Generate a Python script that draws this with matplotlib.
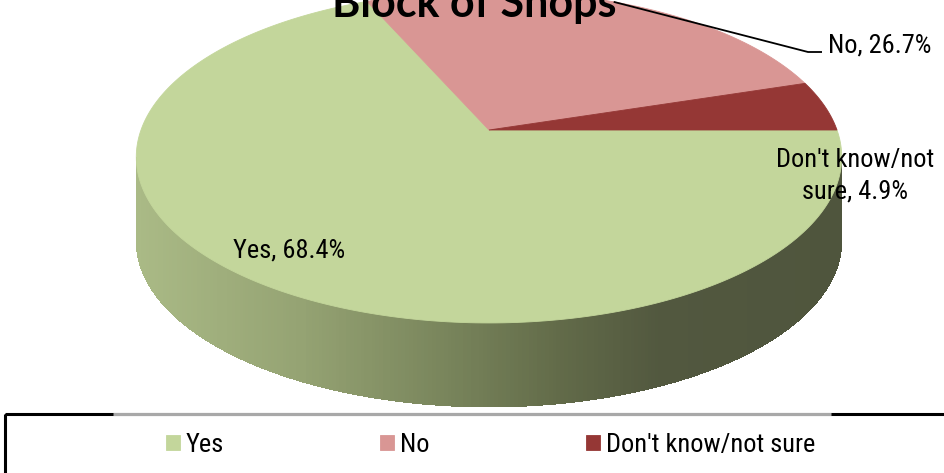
import textwrap
import numpy as np
import matplotlib
matplotlib.use("Agg")
import matplotlib.pyplot as plt
from matplotlib import font_manager
from matplotlib.transforms import Transform, Affine2D
from matplotlib.path import Path
from matplotlib.patches import Rectangle
from matplotlib.collections import PolyCollection
from matplotlib.colors import LinearSegmentedColormap

# ---------------- data ----------------
categories = ["Yes", "No", "Don't know/not sure"]
values = [68.4, 26.7, 4.9]
title = "Block of Shops"
top_colors = ["#C3D69B", "#D99694", "#953735"]

# ---------------- layout / style ----------------
W, H = 944, 473
CX, CY = 489, 130          # projected pie centre (px from top-left)
SX, SY = 348, 161.5        # horizontal / vertical radius scale (px)
K = 0.163                  # perspective strength
DEPTH = 84                 # thickness of pie (px)
side_stops = [(136, "#AABA86"), (300, "#95A373"), (450, "#78845B"),
              (560, "#626B49"), (660, "#52583F"), (843, "#4F553D")]


def have_font(name):
    try:
        font_manager.findfont(font_manager.FontProperties(family=name),
                              fallback_to_default=False)
        return True
    except Exception:
        return False


narrow = None
for cand in ["Liberation Sans Narrow", "Arial Narrow", "Roboto Condensed",
             "Open Sans Condensed"]:
    if have_font(cand):
        narrow = cand
        break
if narrow:
    LABEL_FONT = [narrow, "DejaVu Sans"]
    FS = 19
else:
    LABEL_FONT = ["Liberation Sans", "DejaVu Sans"]
    FS = 16.5
EM = FS * 100 / 72.0


class PieProjection(Transform):
    input_dims = output_dims = 2
    is_separable = False
    has_inverse = False

    def transform_non_affine(self, pts):
        pts = np.asarray(pts, float)
        u, v = pts[:, 0], pts[:, 1]
        d = 1 + K * v
        return np.column_stack([CX + SX * u / d, CY - SY * v / d])

    def transform_path_non_affine(self, path):
        polys = path.to_polygons(Affine2D().scale(2000), closed_only=False)
        verts = np.concatenate(polys) / 2000.0
        return Path(self.transform_non_affine(verts), closed=True)


proj = PieProjection()

fig = plt.figure(figsize=(W / 100, H / 100), dpi=100)
ax = fig.add_axes([0, 0, 1, 1])

# top face via matplotlib pie
wedges, _ = ax.pie(values, startangle=0, counterclock=False, colors=top_colors,
                   radius=1, center=(0, 0),
                   wedgeprops=dict(linewidth=0.6, antialiased=True))
for w, c in zip(wedges, top_colors):
    w.set_edgecolor(c)
    w.set_transform(proj + ax.transData)
    w.set_zorder(3)

# side wall (front part of the cylinder), overlapping strips -> no seams
thL = np.pi + np.arcsin(K)
thR = 2 * np.pi - np.arcsin(K)
th = np.linspace(thL, thR, 300)
top = proj.transform(np.column_stack([np.cos(th), np.sin(th)]))
bot = top + np.array([0, DEPTH])
xs0, xs1 = side_stops[0][0], side_stops[-1][0]
cmap = LinearSegmentedColormap.from_list(
    "side", [((x - xs0) / (xs1 - xs0), c) for x, c in side_stops])
quads, cols = [], []
n = len(th)
for i in range(n - 1):
    j = min(i + 3, n - 1)
    quads.append(np.vstack([top[i:j + 1], bot[i:j + 1][::-1]]))
    xm = 0.5 * (top[i, 0] + top[i + 1, 0])
    cols.append(cmap(np.clip((xm - xs0) / (xs1 - xs0), 0, 1)))
pc = PolyCollection(quads, facecolors=cols, edgecolors="none", zorder=2,
                    antialiased=False)
ax.add_collection(pc)
# smooth antialiased outline of the side wall
outline = np.vstack([top, bot[::-1]])
ax.add_collection(PolyCollection([bot], facecolors="none",
                                 edgecolors=[cols[len(cols) // 2]],
                                 linewidths=0, zorder=1))

# labels
labels = [textwrap.fill(f"{c}, {v}%", 15) for c, v in zip(categories, values)]
ax.text(289, 257, labels[0], fontsize=FS, family=LABEL_FONT, ha="center",
        va="baseline", zorder=5)
ax.text(828, 53, labels[1], fontsize=FS, family=LABEL_FONT, ha="left",
        va="baseline", zorder=5)
ax.text(855, 198, labels[2], fontsize=FS, family=LABEL_FONT, ha="center",
        va="baseline", multialignment="center", linespacing=1.35, zorder=5)

# leader line for "No"
w_no = wedges[1]
mid = np.deg2rad(0.5 * (w_no.theta1 + w_no.theta2))
p0 = proj.transform(np.array([[np.cos(mid), np.sin(mid)]]))[0]
ax.plot([p0[0], 808, 822], [p0[1], 52, 52], color="black", lw=1.3, zorder=5,
        solid_capstyle="butt")

# title (partly cut off at the top, as in the source)
ax.text(474.5, 17, title, fontsize=31, fontweight="bold",
        family=["Lato", "DejaVu Sans"], ha="center", va="baseline", zorder=6)

# legend box
ax.add_patch(Rectangle((5, 414), 1200, 200, fill=False, edgecolor="black",
                       lw=2.2, zorder=6, clip_on=False))
ax.plot([113, 831], [414, 414], color="#A8A8A8", lw=2.2, zorder=7,
        solid_capstyle="butt")
leg = fig.legend(wedges, categories, loc="center left",
                 bbox_to_anchor=(166 / W, 1 - 445 / H), ncol=3, frameon=False,
                 handlelength=14 / EM, handleheight=14 / EM,
                 handletextpad=6 / EM, columnspacing=156 / EM,
                 borderpad=0, borderaxespad=0,
                 prop=dict(family=LABEL_FONT, size=FS))

ax.set_aspect("auto")
ax.set_xlim(0, W)
ax.set_ylim(H, 0)
ax.axis("off")
fig.savefig("out.png", dpi=100)
